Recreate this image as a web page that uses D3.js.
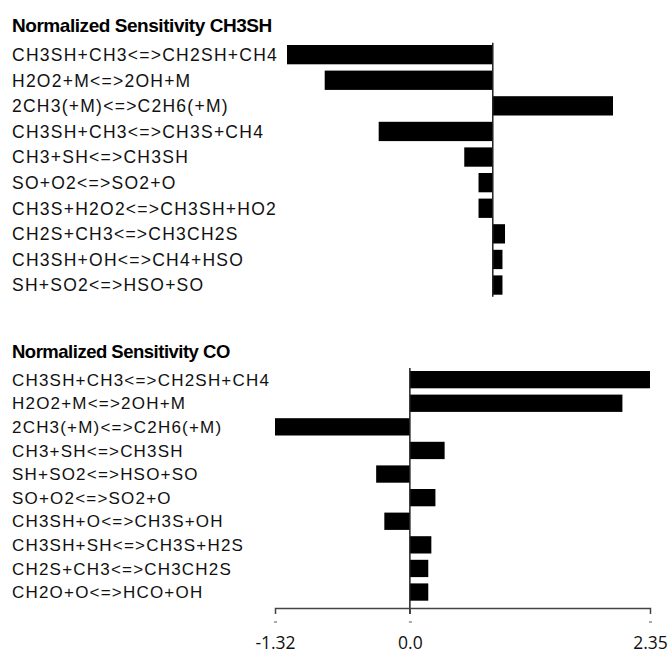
<!DOCTYPE html>
<html>
<head>
<meta charset="utf-8">
<script src="https://cdn.jsdelivr.net/npm/d3@7"></script>
<style>
  body { margin: 0; background: #fff; }
  .title { font-family: "Liberation Sans", Arial, sans-serif; font-weight: bold; }
  .label { font-family: "Liberation Sans", Arial, sans-serif; fill: #111; }
  .tick text { font-family: "Open Sans", "Liberation Sans", sans-serif; }
</style>
</head>
<body>
<div id="chart"></div>
<script>
// top panel: CH3SH
const ch3shTitle = 'Normalized Sensitivity CH3SH';
const ch3shLabels = [
    'CH3SH+CH3<=>CH2SH+CH4',
    'H2O2+M<=>2OH+M',
    '2CH3(+M)<=>C2H6(+M)',
    'CH3SH+CH3<=>CH3S+CH4',
    'CH3+SH<=>CH3SH',
    'SO+O2<=>SO2+O',
    'CH3S+H2O2<=>CH3SH+HO2',
    'CH2S+CH3<=>CH3CH2S',
    'CH3SH+OH<=>CH4+HSO',
    'SH+SO2<=>HSO+SO'
];
const ch3shValues = [-2.02, -1.65, 1.18, -1.12, -0.28, -0.14, -0.14, 0.12, 0.095, 0.095];
const ch3shDomain = [-2.02, 1.18];

// bottom panel: CO
const coTitle = 'Normalized Sensitivity CO';
const coLabels = [
    'CH3SH+CH3<=>CH2SH+CH4',
    'H2O2+M<=>2OH+M',
    '2CH3(+M)<=>C2H6(+M)',
    'CH3+SH<=>CH3SH',
    'SH+SO2<=>HSO+SO',
    'SO+O2<=>SO2+O',
    'CH3SH+O<=>CH3S+OH',
    'CH3SH+SH<=>CH3S+H2S',
    'CH2S+CH3<=>CH3CH2S',
    'CH2O+O<=>HCO+OH'
];
const coValues = [2.35, 2.08, -1.32, 0.34, -0.33, 0.25, -0.25, 0.21, 0.18, 0.18];
const coDomain = [-1.32, 2.35];
const axisTicks = [-1.32, 0, 2.35];

const width = 671, height = 653;

const svg = d3.select('#chart').append('svg')
    .attr('width', width)
    .attr('height', height);

function panel(opts) {
    const x = d3.scaleLinear().domain(opts.domain).range(opts.xRange);
    const y = d3.scaleBand()
        .domain(d3.range(opts.labels.length))
        .range(opts.yRange)
        .paddingInner(opts.pad)
        .paddingOuter(0);

    const g = svg.append('g');

    g.append('text')
        .attr('class', 'title')
        .attr('x', 12)
        .attr('y', opts.titleY)
        .style('font-size', opts.titleSize + 'px')
        .style('letter-spacing', opts.titleSpacing + 'px')
        .text(opts.title);

    g.selectAll('text.label')
        .data(opts.labels)
        .join('text')
        .attr('class', 'label')
        .attr('x', 12)
        .attr('y', (d, i) => y(i) + y.bandwidth() / 2)
        .attr('dy', '0.36em')
        .style('font-size', opts.labelSize + 'px')
        .style('letter-spacing', opts.labelSpacing + 'px')
        .text(d => d);

    g.selectAll('rect.bar')
        .data(opts.values)
        .join('rect')
        .attr('class', 'bar')
        .attr('x', d => x(Math.min(0, d)))
        .attr('y', (d, i) => y(i))
        .attr('width', d => Math.abs(x(d) - x(0)))
        .attr('height', y.bandwidth())
        .style('fill', '#000');

    // zero line
    g.append('line')
        .attr('x1', x(0)).attr('x2', x(0))
        .attr('y1', opts.zeroY[0]).attr('y2', opts.zeroY[1])
        .style('stroke', '#222')
        .style('stroke-width', 1.5);

    return { x, y, g };
}

panel({
    title: ch3shTitle, labels: ch3shLabels, values: ch3shValues, domain: ch3shDomain,
    xRange: [287, 613], yRange: [45, 294.7], pad: 0.246,
    titleY: 32, titleSize: 19, titleSpacing: -0.45,
    labelSize: 17.5, labelSpacing: 1.25,
    zeroY: [42.7, 296.7]
});

const co = panel({
    title: coTitle, labels: coLabels, values: coValues, domain: coDomain,
    xRange: [275, 650], yRange: [371, 600.7], pad: 0.267,
    titleY: 358, titleSize: 18.5, titleSpacing: -0.5,
    labelSize: 17, labelSpacing: 1.2,
    zeroY: [368, 614]
});

// bottom axis
const axis = co.g.append('g')
    .attr('transform', 'translate(0,608)')
    .call(d3.axisBottom(co.x)
        .tickValues(axisTicks)
        .tickSize(6)
        .tickSizeOuter(6)
        .tickPadding(23)
        .tickFormat(d => d === 0 ? '0.0' : d.toFixed(2)));

axis.select('.domain').style('stroke', '#444').style('stroke-width', 1.5);
axis.selectAll('.tick line').style('stroke', '#444');
axis.selectAll('.tick text').style('font-size', '17.5px').style('fill', '#111');
axis.selectAll('.tick').append('line')
    .attr('x1', -1.5).attr('x2', 1.5)
    .attr('y1', 14).attr('y2', 14)
    .style('stroke', '#555');
</script>
</body>
</html>
